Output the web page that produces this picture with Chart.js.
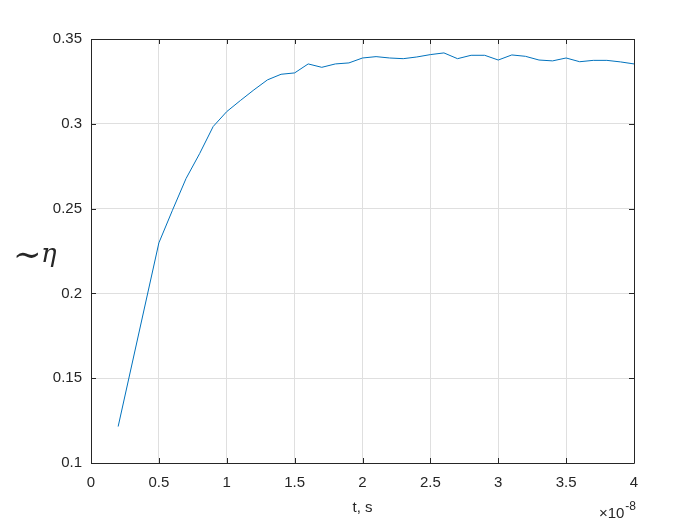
<!DOCTYPE html>
<html>
<head>
<meta charset="utf-8">
<script src="https://cdn.jsdelivr.net/npm/chart.js@4/dist/chart.umd.min.js"></script>
<style>
  body { margin: 0; background: #fff; }
</style>
</head>
<body>
<canvas id="effChart" width="700" height="525"></canvas>
<script>
// time in units of 1e-8 s
const tValues = [0.2, 0.5, 0.6, 0.7, 0.8, 0.9, 1.0, 1.1, 1.2, 1.3, 1.4, 1.5, 1.6, 1.7, 1.8, 1.9,
  2.0, 2.1, 2.2, 2.3, 2.4, 2.5, 2.6, 2.7, 2.8, 2.9, 3.0, 3.1, 3.2, 3.3, 3.4, 3.5, 3.6, 3.7, 3.8, 3.9, 4.0];
const etaValues = [0.1215, 0.2298, 0.249, 0.2677, 0.2824, 0.2984, 0.3072, 0.3137, 0.320, 0.3259, 0.3292, 0.330, 0.3353, 0.3333, 0.3353, 0.3359,
  0.3388, 0.3396, 0.3388, 0.3384, 0.3394, 0.3408, 0.3418, 0.3384, 0.3404, 0.3404, 0.3376, 0.3406, 0.3398, 0.3376, 0.3371, 0.3388, 0.3366, 0.3374, 0.3374, 0.3365, 0.3353];
const xTicks = [0, 0.5, 1, 1.5, 2, 2.5, 3, 3.5, 4];
const yTicks = [0.1, 0.15, 0.2, 0.25, 0.3, 0.35];

const axisColor = '#262626';
const font = { family: 'Liberation Sans, Arial, sans-serif', size: 15 };

// box, inward ticks and extra labels like MATLAB
const boxPlugin = {
  id: 'boxPlugin',
  afterDraw(chart) {
    const { ctx, chartArea: a, scales } = chart;
    ctx.save();
    ctx.strokeStyle = axisColor;
    ctx.lineWidth = 1;
    ctx.beginPath();
    ctx.rect(a.left + 0.5, a.top + 0.5, a.right - a.left, a.bottom - a.top);
    xTicks.forEach(v => {
      const x = Math.round(scales.x.getPixelForValue(v)) + 0.5;
      ctx.moveTo(x, a.bottom); ctx.lineTo(x, a.bottom - 5);
      ctx.moveTo(x, a.top); ctx.lineTo(x, a.top + 5);
    });
    yTicks.forEach(v => {
      const y = Math.round(scales.y.getPixelForValue(v)) + 0.5;
      ctx.moveTo(a.left, y); ctx.lineTo(a.left + 5, y);
      ctx.moveTo(a.right, y); ctx.lineTo(a.right - 5, y);
    });
    ctx.stroke();

    // exponent label
    ctx.fillStyle = axisColor;
    ctx.textBaseline = 'alphabetic';
    ctx.textAlign = 'right';
    ctx.font = '12px Liberation Sans, Arial, sans-serif';
    ctx.fillText('-8', a.right + 2, 510);
    const w = ctx.measureText('-8').width;
    ctx.font = '15px Liberation Sans, Arial, sans-serif';
    ctx.fillText('\u00d710', a.right + 1 - w, 518);

    // y label, horizontal
    ctx.textAlign = 'left';
    ctx.font = '34px DejaVu Serif, serif';
    ctx.fillText('\u223c', 13, 266);
    ctx.font = 'italic 26px DejaVu Serif, serif';
    ctx.fillText('\u03b7', 41, 262);
    ctx.restore();
  }
};

new Chart(document.getElementById('effChart'), {
  type: 'line',
  data: {
    datasets: [{
      data: tValues.map((t, i) => ({ x: t, y: etaValues[i] })),
      borderColor: '#0072bd',
      borderWidth: 1,
      pointRadius: 0,
      tension: 0,
      fill: false
    }]
  },
  options: {
    responsive: false,
    animation: false,
    layout: { padding: { left: 0, right: 66, top: 39, bottom: 0 } },
    plugins: { legend: { display: false }, tooltip: { enabled: false } },
    scales: {
      x: {
        type: 'linear',
        min: 0, max: 4,
        afterBuildTicks: s => { s.ticks = xTicks.map(v => ({ value: v })); },
        afterFit: s => { s.height = 62; },
        ticks: { color: axisColor, font, padding: 11, maxRotation: 0, callback: v => String(v) },
        grid: { color: '#dfdfdf', drawTicks: false },
        border: { display: false },
        title: { display: true, text: 't, s', color: axisColor, font, padding: { top: 0, bottom: 8 } }
      },
      y: {
        min: 0.1, max: 0.35,
        afterBuildTicks: s => { s.ticks = yTicks.map(v => ({ value: v })); },
        afterFit: s => { s.width = 91; },
        ticks: { color: axisColor, font, padding: 9, callback: v => String(v) },
        grid: { color: '#dfdfdf', drawTicks: false },
        border: { display: false }
      }
    }
  },
  plugins: [boxPlugin]
});
</script>
</body>
</html>
